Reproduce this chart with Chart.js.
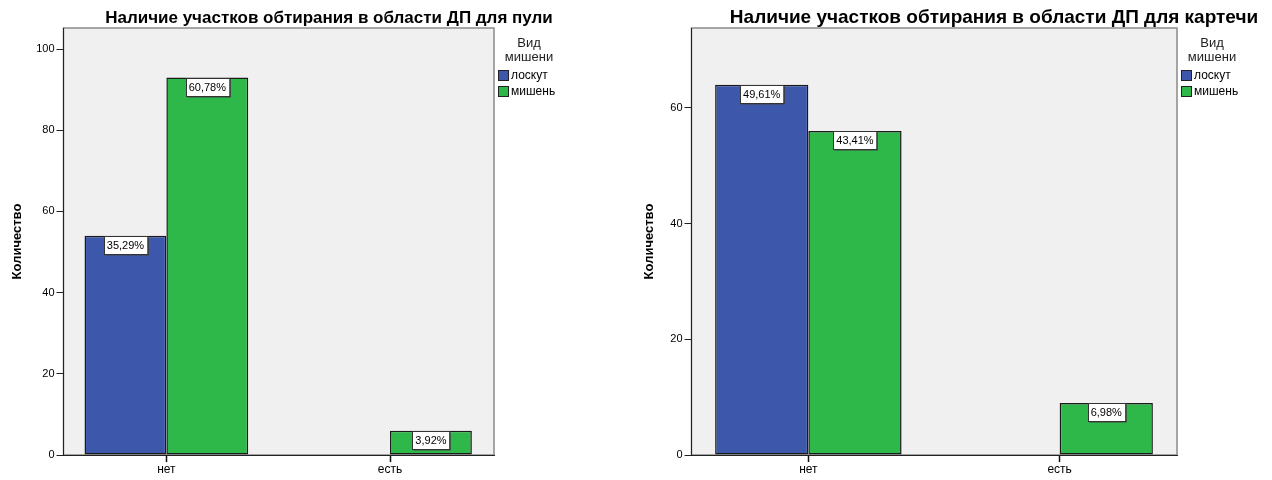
<!DOCTYPE html>
<html lang="ru">
<head>
<meta charset="utf-8">
<title>Наличие участков обтирания в области ДП</title>
<script src="https://cdn.jsdelivr.net/npm/chart.js@4.4.1/dist/chart.umd.min.js"></script>
<style>
  html, body { margin: 0; padding: 0; background: #fff; overflow: hidden; }
  .panel { position: absolute; top: 0; width: 636px; height: 480px; }
  #izq { left: 0; }
  #der { left: 636px; }
</style>
</head>
<body>
<div class="panel" id="izq"><canvas id="graficoPuli"></canvas></div>
<div class="panel" id="der"><canvas id="graficoKartechi"></canvas></div>
<script>
// Категории и группы
const categorias = ["нет", "есть"];
const grupos = ["лоскут", "мишень"];
const colores = ["#3d57aa", "#2eb84a"];

// Пуля
const puliLoskut = [54, 0];
const puliMishen = [93, 6];
const puliTicks = [0, 20, 40, 60, 80, 100];

// Картечь
const kartechiLoskut = [64, 0];
const kartechiMishen = [56, 9];
const kartechiTicks = [0, 20, 40, 60];

Chart.defaults.font.family = "'Liberation Sans', Arial, sans-serif";
Chart.defaults.color = "#000";

// Фон области графика
const fondo = {
    id: "fondo",
    beforeDraw(chart) {
        const a = chart.chartArea;
        const ctx = chart.ctx;
        ctx.save();
        ctx.fillStyle = "#f0f0f0";
        ctx.fillRect(a.left, a.top, a.right - a.left, a.bottom - a.top);
        ctx.strokeStyle = "#8a8a8a";
        ctx.lineWidth = 1.5;
        ctx.strokeRect(a.left, a.top, a.right - a.left, a.bottom - a.top);
        ctx.restore();
    }
};

// Подписи процентов на столбцах
const etiquetas = {
    id: "etiquetas",
    afterDatasetsDraw(chart) {
        const ctx = chart.ctx;
        const ds = chart.data.datasets;
        let total = 0;
        ds.forEach(d => d.data.forEach(p => total += p.y));
        ctx.save();
        ctx.font = "11px 'Liberation Sans', Arial, sans-serif";
        ctx.textAlign = "center";
        ctx.textBaseline = "middle";
        ds.forEach((d, di) => {
            chart.getDatasetMeta(di).data.forEach((bar, i) => {
                const v = d.data[i].y;
                if (!v) return;
                const texto = (v / total * 100).toFixed(2).replace(".", ",") + "%";
                const w = ctx.measureText(texto).width + 6;
                const h = 18;
                const x = Math.round(bar.x - w / 2) + 0.5;
                const y = Math.round(bar.y) + 0.5;
                // тень снизу и справа
                ctx.fillStyle = "#444";
                ctx.fillRect(x + 1, y + 1, w, h);
                ctx.fillStyle = "#fff";
                ctx.fillRect(x, y, w, h);
                ctx.strokeStyle = "#333";
                ctx.lineWidth = 1;
                ctx.strokeRect(x, y, w, h);
                ctx.fillStyle = "#000";
                ctx.fillText(texto, bar.x, y + h / 2 + 0.5);
            });
        });
        ctx.restore();
    }
};

// Заголовок и легенда
const rotulos = {
    id: "rotulos",
    afterDraw(chart, args, opts) {
        const ctx = chart.ctx;
        const a = chart.chartArea;
        ctx.save();
        ctx.fillStyle = "#000";
        ctx.textAlign = "center";
        ctx.textBaseline = "middle";
        ctx.font = "bold " + opts.tituloSize + "px 'Liberation Sans', Arial, sans-serif";
        ctx.fillText(opts.titulo, opts.tituloX, 18);

        const lx = a.right + opts.leyendaDx;
        ctx.font = "13px 'Liberation Sans', Arial, sans-serif";
        ctx.fillStyle = "#222";
        ctx.fillText("Вид", lx + 31, 43);
        ctx.fillText("мишени", lx + 31, 57);

        ctx.textAlign = "left";
        ctx.font = "12px 'Liberation Sans', Arial, sans-serif";
        grupos.forEach((g, i) => {
            const by = 70 + i * 16;
            ctx.fillStyle = colores[i];
            ctx.fillRect(lx + 0.5, by + 0.5, 10, 10);
            ctx.strokeStyle = "#222";
            ctx.lineWidth = 1;
            ctx.strokeRect(lx + 0.5, by + 0.5, 10, 10);
            ctx.fillStyle = "#000";
            ctx.fillText(g, lx + 13, by + 6);
        });
        ctx.restore();
    }
};

function crearGrafico(id, titulo, loskut, mishen, yTicks, o) {
    const series = [loskut, mishen];
    return new Chart(document.getElementById(id), {
        type: "bar",
        data: {
            datasets: series.map((s, i) => ({
                label: grupos[i],
                data: s.map((v, k) => ({ x: k, y: v })),
                backgroundColor: colores[i],
                borderColor: "#1a1a1a",
                borderWidth: 1.5,
                borderSkipped: false,
                categoryPercentage: o.catPct,
                barPercentage: 1
            }))
        },
        options: {
            responsive: true,
            maintainAspectRatio: false,
            animation: false,
            layout: { padding: { top: 28, right: o.padRight, left: 0, bottom: 0 } },
            plugins: {
                legend: { display: false },
                tooltip: { enabled: false },
                rotulos: { titulo: titulo, tituloX: o.tituloX, tituloSize: o.tituloSize, leyendaDx: 4 }
            },
            scales: {
                x: {
                    type: "linear",
                    min: o.xMin,
                    max: o.xMax,
                    offset: false,
                    afterBuildTicks: s => { s.ticks = categorias.map((c, i) => ({ value: i })); },
                    afterFit: s => { s.height = 25; },
                    ticks: {
                        callback: v => categorias[v],
                        font: { size: 12 },
                        padding: 0,
                        autoSkip: false,
                        maxRotation: 0
                    },
                    grid: { offset: false, drawOnChartArea: false, drawTicks: true, tickLength: 7, tickColor: "#111", tickWidth: 1.5 },
                    border: { color: "#222", width: 1 }
                },
                y: {
                    min: 0,
                    max: o.yMax,
                    afterBuildTicks: s => { s.ticks = yTicks.map(v => ({ value: v })); },
                    afterFit: s => { s.width = o.ejeAncho; },
                    ticks: { font: { size: 11 }, padding: 2 },
                    grid: { drawOnChartArea: false, drawTicks: true, tickLength: 7, color: "#222" },
                    border: { color: "#222", width: 1 },
                    title: {
                        display: true,
                        text: "Количество",
                        font: { size: 13, weight: "bold" },
                        padding: { top: o.yTitPad, bottom: 0 }
                    }
                }
            }
        },
        plugins: [fondo, etiquetas, rotulos]
    });
}

crearGrafico("graficoPuli", "Наличие участков обтирания в области ДП для пули",
    puliLoskut, puliMishen, puliTicks,
    { yMax: 105.2, xMin: -0.46, xMax: 1.465, catPct: 0.732, ejeAncho: 63.5, padRight: 142,
      tituloX: 329, tituloSize: 17, yTitPad: 10 });

crearGrafico("graficoKartechi", "Наличие участков обтирания в области ДП для картечи",
    kartechiLoskut, kartechiMishen, kartechiTicks,
    { yMax: 73.8, xMin: -0.465, xMax: 1.467, catPct: 0.742, ejeAncho: 55.5, padRight: 95,
      tituloX: 358, tituloSize: 19, yTitPad: 6 });
</script>
</body>
</html>
